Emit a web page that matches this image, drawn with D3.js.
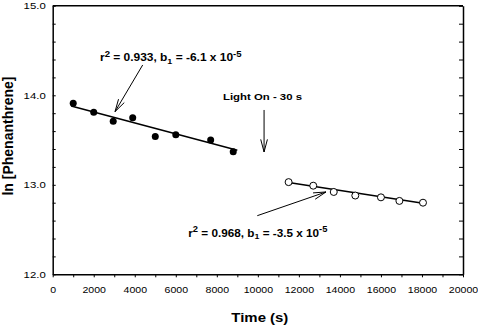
<!DOCTYPE html>
<html><head><meta charset="utf-8">
<script src="https://cdn.jsdelivr.net/npm/d3@7"></script>
<style>body{margin:0;background:#fff}svg{display:block}text{font-family:"Liberation Sans",Arial,sans-serif;fill:#000}</style>
</head><body>
<script>
// Data
const darkTime = [1000, 2000, 2950, 3900, 5000, 6000, 7700, 8800];
const darkLnC  = [13.91, 13.81, 13.71, 13.75, 13.54, 13.56, 13.50, 13.37];
const lightTime = [11500, 12700, 13700, 14750, 16000, 16900, 18050];
const lightLnC  = [13.03, 12.99, 12.92, 12.88, 12.86, 12.82, 12.80];
const fit1X = [900, 9000], fit1Y = [13.88, 13.385];
const fit2X = [11500, 18050], fit2Y = [13.025, 12.795];
const xTicks = d3.range(0, 20001, 1000);
const xLabels = [0,2000,4000,6000,8000,10000,12000,14000,16000,18000,20000];
const yTicks = d3.range(12, 15.001, 0.2).map(v => +v.toFixed(1));
const yLabels = [12, 13, 14, 15];
const xTitle = "Time (s)", yTitle = "ln [Phenanthrene]";
const lightLabel = "Light On - 30 s";

const W = 478, H = 326, SX = 1.15, SXT = 1.1;
const svg = d3.select("body").append("svg").attr("width", W).attr("height", H);
const x = d3.scaleLinear().domain([0, 20000]).range([52.7, 463]);
const y = d3.scaleLinear().domain([12, 15]).range([274.3, 5.8]);

// frame top
svg.append("line").attr("x1", x(0)).attr("x2", x(20000)).attr("y1", y(15)).attr("y2", y(15)).attr("stroke", "#000").attr("stroke-width", 1.5);

const gx = svg.append("g").attr("transform", `translate(0,${y(12)})`)
  .call(d3.axisBottom(x).tickValues(xTicks).tickSizeInner(3).tickSizeOuter(0).tickPadding(9)
    .tickFormat(d => xLabels.includes(d) ? d : ""));
const gy = svg.append("g").attr("transform", `translate(${x(0)},0)`)
  .call(d3.axisLeft(y).tickValues(yTicks).tickSizeInner(-3).tickSizeOuter(0).tickPadding(7)
    .tickFormat(d => yLabels.includes(d) ? d3.format(".1f")(d) : ""));
const gr = svg.append("g").attr("transform", `translate(${x(20000)},0)`)
  .call(d3.axisRight(y).tickValues(yTicks).tickSizeInner(-4).tickSizeOuter(0).tickFormat(""));
[gx, gy, gr].forEach(g => {
  g.select(".domain").attr("stroke-width", 1.5);
  g.selectAll(".tick line").attr("stroke-width", 1);
  g.selectAll("text").style("font-family", '"Liberation Sans",Arial,sans-serif').attr("font-size", 9.9).attr("fill", "#000");
});
gx.selectAll(".tick text").attr("font-size", 9.6).attr("transform", `scale(${SXT},1)`);
gy.selectAll(".tick text").attr("x", -7 / SX).attr("transform", `scale(${SX},1)`);

// axis titles
svg.append("text").attr("transform", `translate(${(x(0)+x(20000))/2 + 2},322) scale(${SX},1)`)
  .attr("text-anchor", "middle").attr("font-weight", "bold").attr("font-size", 13).text(xTitle);
svg.append("text").attr("transform", `translate(12.5,${(y(12)+y(15))/2 - 4}) rotate(-90)`)
  .attr("text-anchor", "middle").attr("font-weight", "bold").attr("font-size", 14).text(yTitle);

// fit lines
const line = d3.line().x(d => x(d[0])).y(d => y(d[1]));
svg.append("path").attr("d", line(d3.zip(fit1X, fit1Y))).attr("stroke", "#000").attr("stroke-width", 1.5).attr("fill", "none");
svg.append("path").attr("d", line(d3.zip(fit2X, fit2Y))).attr("stroke", "#000").attr("stroke-width", 1.5).attr("fill", "none");

// points
svg.selectAll(".dark").data(d3.zip(darkTime, darkLnC)).join("circle")
  .attr("cx", d => x(d[0])).attr("cy", d => y(d[1])).attr("r", 3.5).attr("fill", "#000");
svg.selectAll(".lightp").data(d3.zip(lightTime, lightLnC)).join("circle")
  .attr("cx", d => x(d[0])).attr("cy", d => y(d[1])).attr("r", 3.5).attr("fill", "#fff").attr("stroke", "#000").attr("stroke-width", 1);

// arrows (data coordinates)
function arrow(x0, y0, x1, y1) {
  const px0 = x(x0), py0 = y(y0), px1 = x(x1), py1 = y(y1);
  const a = Math.atan2(py1 - py0, px1 - px0), L = 13, h = 0.26;
  const g = svg.append("g").attr("stroke", "#000").attr("stroke-width", 1).attr("fill", "none");
  g.append("line").attr("x1", px0).attr("y1", py0).attr("x2", px1).attr("y2", py1);
  [a + Math.PI - h, a + Math.PI + h].forEach(t => {
    g.append("line").attr("x1", px1).attr("y1", py1).attr("x2", px1 + L * Math.cos(t)).attr("y2", py1 + L * Math.sin(t));
  });
}
arrow(4387, 14.339, 3037, 13.817);
arrow(10303, 13.836, 10303, 13.367);
arrow(9973, 12.655, 13322, 12.92);

// annotations
function stat(tx, ty, r2, b1, fs) {
  const t = svg.append("text").attr("transform", `translate(${x(tx)},${y(ty)}) scale(${SX},1)`)
    .attr("font-weight", "bold").attr("font-size", fs);
  t.append("tspan").text("r");
  t.append("tspan").attr("font-size", fs * 0.8).attr("dy", -4.5).text("2");
  t.append("tspan").attr("dy", 4.5).text(` = ${r2}, b`);
  t.append("tspan").attr("font-size", fs * 0.75).attr("dy", 2.5).text("1");
  t.append("tspan").attr("dy", -2.5).text(` = ${b1} x 10`);
  t.append("tspan").attr("font-size", fs * 0.8).attr("dy", -4.5).text("-5");
}
stat(2305, 14.383, "0.933", "-6.1", 10.4);
stat(6610, 12.42, "0.968", "-3.5", 10.2);
svg.append("text").attr("transform", `translate(${x(8301)},${y(13.947)}) scale(${SX},1)`)
  .attr("font-weight", "bold").attr("font-size", 9.9).text(lightLabel);
</script>
</body></html>
